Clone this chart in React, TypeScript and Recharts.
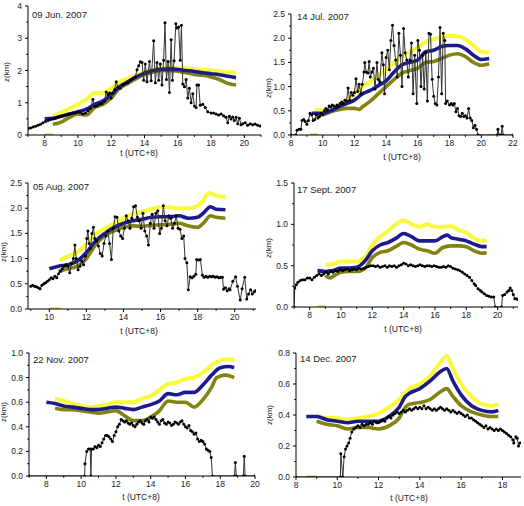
import React from 'react';
import { LineChart, Line, XAxis, YAxis } from 'recharts';

type Pt = [number, number];

// ---- 09 Jun. 2007 ----
const junLidar: Pt[] = [
  [7.0, 0.2], [7.15, 0.22], [7.3, 0.25], [7.45, 0.27], [7.6, 0.3], [7.75, 0.33], [7.9, 0.38], [8.05, 0.42],
  [8.2, 0.45], [8.35, 0.48], [8.5, 0.5], [8.65, 0.52], [8.8, 0.55], [8.95, 0.58], [9.1, 0.6], [9.25, 0.62],
  [9.4, 0.64], [9.55, 0.66], [9.7, 0.68], [9.85, 0.7], [10.0, 0.72], [10.15, 0.7], [10.3, 0.65], [10.45, 0.68],
  [10.6, 0.75], [10.75, 0.82], [10.9, 1.1], [11.0, 0.88], [11.15, 0.9], [11.3, 0.95], [11.45, 0.98], [11.6, 1.05],
  [11.7, 1.33], [11.8, 1.25], [11.9, 1.3], [12.0, 1.15], [12.1, 1.3], [12.2, 1.4], [12.3, 1.65], [12.4, 1.48],
  [12.55, 1.45], [12.7, 1.55], [12.85, 1.6], [13.0, 1.62], [13.15, 1.7], [13.3, 1.75], [13.45, 1.8], [13.55, 2.02],
  [13.65, 2.15], [13.75, 2.27], [13.85, 2.25], [13.95, 1.7], [14.05, 2.2], [14.15, 1.65], [14.3, 2.28], [14.4, 1.68],
  [14.55, 2.92], [14.65, 1.62], [14.75, 2.25], [14.85, 1.7], [14.95, 2.2], [15.05, 1.55], [15.15, 2.32], [15.23, 3.48],
  [15.32, 1.72], [15.42, 2.28], [15.5, 1.32], [15.6, 2.95], [15.68, 1.7], [15.78, 2.3], [15.88, 3.45], [15.95, 3.32],
  [16.05, 3.35], [16.15, 2.32], [16.22, 3.4], [16.3, 1.58], [16.4, 1.5], [16.5, 1.72], [16.6, 1.15], [16.7, 1.45],
  [16.8, 1.0], [16.9, 1.28], [17.0, 0.9], [17.1, 0.85], [17.15, 1.55], [17.25, 1.55], [17.35, 0.92], [17.5, 0.95],
  [17.65, 0.85], [17.8, 0.72], [18.0, 0.68], [18.15, 0.68], [18.3, 0.65], [18.45, 0.62], [18.6, 0.65], [18.75, 0.6],
  [18.9, 0.55], [19.0, 0.38], [19.1, 0.58], [19.2, 0.5], [19.3, 0.56], [19.4, 0.45], [19.5, 0.55], [19.6, 0.35],
  [19.7, 0.52], [19.8, 0.32], [19.9, 0.35], [20.05, 0.38], [20.2, 0.3], [20.35, 0.35], [20.5, 0.32], [20.65, 0.34],
  [20.8, 0.3], [20.95, 0.28],
];
const junYellow: Pt[] = [
  [8.5, 0.58], [9, 0.7], [9.5, 0.82], [10, 0.95], [10.5, 1.1], [11, 1.3], [11.5, 1.3], [12, 1.45], [12.5, 1.65],
  [13, 1.75], [13.5, 1.85], [14, 1.95], [14.5, 2.02], [15, 2.07], [15.5, 2.08], [16, 2.07], [16.5, 2.07],
  [17, 2.05], [17.5, 2.02], [18, 2.0], [18.5, 1.98], [19, 1.95], [19.5, 1.93],
];
const junBlue: Pt[] = [
  [8, 0.5], [8.5, 0.52], [9, 0.58], [9.5, 0.65], [10, 0.72], [10.5, 0.8], [11, 0.95], [11.5, 1.05], [12, 1.25],
  [12.5, 1.5], [13, 1.65], [13.5, 1.8], [14, 1.92], [14.5, 2.0], [15, 2.04], [15.5, 2.05], [16, 2.03], [16.5, 2.0],
  [17, 1.97], [17.5, 1.93], [18, 1.9], [18.5, 1.87], [19, 1.82], [19.5, 1.78],
];
const junOlive: Pt[] = [
  [8.5, 0.33], [9, 0.4], [9.5, 0.55], [10, 0.65], [10.5, 0.62], [11, 0.85], [11.5, 0.95], [12, 1.15], [12.5, 1.45],
  [13, 1.6], [13.5, 1.75], [14, 1.88], [14.5, 1.95], [15, 2.0], [15.5, 2.0], [16, 1.98], [16.5, 1.93], [17, 1.88],
  [17.5, 1.85], [18, 1.8], [18.5, 1.72], [19, 1.6], [19.5, 1.55],
];
const junGround: Pt[] = [[8.0, 0], [8.5, 0]];

// ---- 14 Jul. 2007 ----
const julLidar: Pt[] = [
  [8.0, 0], [8.3, 0], [8.38, 0.1], [8.5, 0.12], [8.62, 0.12], [8.7, 0.3], [8.8, 0.32], [8.9, 0.28], [9.0, 0.22],
  [9.1, 0.3], [9.2, 0.45], [9.3, 0.42], [9.4, 0.3], [9.5, 0.32], [9.6, 0.42], [9.7, 0.35], [9.8, 0.38], [9.9, 0.45],
  [10.0, 0.42], [10.1, 0.5], [10.2, 0.55], [10.3, 0.52], [10.4, 0.6], [10.5, 0.58], [10.6, 0.62], [10.7, 0.6],
  [10.8, 0.58], [10.9, 0.62], [11.0, 0.6], [11.1, 0.65], [11.2, 0.68], [11.3, 0.65], [11.4, 0.72], [11.5, 0.7],
  [11.6, 0.97], [11.7, 0.72], [11.8, 0.88], [11.9, 0.82], [12.0, 0.88], [12.1, 1.16], [12.2, 0.9], [12.3, 1.05],
  [12.4, 0.85], [12.5, 1.05], [12.6, 1.3], [12.65, 1.5], [12.75, 1.3], [12.85, 1.28], [12.93, 1.52], [13.0, 1.2],
  [13.1, 1.3], [13.2, 1.38], [13.3, 0.95], [13.42, 1.5], [13.5, 1.15], [13.6, 1.1], [13.73, 1.7], [13.82, 1.45],
  [13.9, 0.85], [14.0, 1.6], [14.1, 1.75], [14.2, 1.35], [14.3, 1.95], [14.4, 2.27], [14.5, 1.85], [14.6, 1.55],
  [14.7, 1.2], [14.8, 2.1], [14.9, 1.65], [15.0, 1.0], [15.1, 2.2], [15.2, 1.7], [15.3, 1.55], [15.4, 1.2],
  [15.5, 1.55], [15.6, 1.9], [15.7, 0.85], [15.8, 1.65], [15.93, 0.65], [16.0, 1.95], [16.1, 1.75], [16.2, 1.0],
  [16.3, 1.65], [16.4, 0.95], [16.5, 1.7], [16.6, 0.7], [16.7, 2.1], [16.8, 2.08], [16.9, 1.15], [17.0, 0.8],
  [17.1, 0.65], [17.2, 0.62], [17.3, 1.2], [17.4, 2.22], [17.5, 0.85], [17.6, 2.1], [17.7, 1.95], [17.75, 0.65],
  [17.85, 0.7], [18.0, 0.62], [18.1, 0.65], [18.2, 0.62], [18.3, 0.65], [18.4, 0.48], [18.5, 0.55], [18.6, 0.4],
  [18.7, 0.38], [18.8, 0.45], [18.9, 0.38], [19.0, 0.4], [19.1, 0.35], [19.2, 0.55], [19.3, 0.35], [19.4, 0.3],
  [19.5, 0.15], [19.6, 0.2], [19.7, 0.12], [19.8, 0], [21.0, 0], [21.05, 0.12], [21.12, 0], [21.25, 0],
  [21.32, 0.18], [21.38, 0], [22, 0],
];
const julYellow: Pt[] = [
  [9.5, 0.52], [10, 0.52], [10.5, 0.55], [11, 0.62], [11.5, 0.72], [12, 0.85], [12.5, 1.0], [13, 1.1],
  [13.5, 1.22], [14, 1.35], [14.5, 1.5], [15, 1.62], [15.5, 1.72], [16, 1.82], [16.5, 1.92], [17, 1.98],
  [17.5, 2.02], [18, 2.05], [18.5, 2.04], [19, 1.98], [19.5, 1.85], [20, 1.72], [20.5, 1.7],
];
const julBlue: Pt[] = [
  [9.3, 0.45], [10, 0.45], [10.5, 0.5], [11, 0.58], [11.5, 0.65], [12, 0.72], [12.5, 0.85], [13, 0.92],
  [13.5, 1.02], [14, 1.12], [14.5, 1.3], [15, 1.45], [15.5, 1.5], [16, 1.55], [16.5, 1.72], [17, 1.75],
  [17.5, 1.83], [18, 1.85], [18.5, 1.85], [19, 1.78], [19.5, 1.65], [20, 1.56], [20.5, 1.58],
];
const julOlive: Pt[] = [
  [9.5, 0.42], [10, 0.42], [10.5, 0.48], [11, 0.52], [11.5, 0.55], [12, 0.55], [12.3, 0.53], [12.5, 0.58],
  [13, 0.7], [13.5, 0.85], [14, 1.0], [14.5, 1.15], [15, 1.28], [15.5, 1.33], [16, 1.38], [16.5, 1.5],
  [17, 1.52], [17.5, 1.58], [18, 1.65], [18.5, 1.68], [19, 1.62], [19.5, 1.5], [20, 1.44], [20.5, 1.47],
];
const julGround: Pt[] = [[9.2, 0], [9.7, 0]];

// ---- 05 Aug. 2007 ----
const augLidar: Pt[] = [
  [9.0, 0.45], [9.1, 0.47], [9.2, 0.45], [9.3, 0.44], [9.4, 0.42], [9.5, 0.4], [9.6, 0.47], [9.7, 0.5],
  [9.8, 0.52], [9.9, 0.55], [10.0, 0.58], [10.1, 0.62], [10.2, 0.6], [10.3, 0.65], [10.4, 0.62], [10.5, 0.7],
  [10.6, 0.75], [10.7, 0.8], [10.8, 0.85], [10.9, 0.88], [11.0, 0.85], [11.1, 0.72], [11.2, 0.9], [11.3, 1.0],
  [11.38, 1.27], [11.45, 1.0], [11.55, 0.78], [11.65, 0.85], [11.75, 0.95], [11.85, 0.88], [11.95, 1.05],
  [12.02, 1.4], [12.08, 1.55], [12.15, 1.3], [12.22, 1.2], [12.3, 1.5], [12.38, 1.62], [12.45, 1.4], [12.55, 1.35],
  [12.65, 1.25], [12.75, 1.1], [12.85, 1.05], [12.95, 1.3], [13.05, 1.45], [13.15, 1.55], [13.25, 1.3],
  [13.35, 0.98], [13.45, 1.6], [13.55, 1.83], [13.65, 1.82], [13.75, 1.55], [13.85, 1.45], [13.95, 1.4],
  [14.05, 1.6], [14.15, 1.85], [14.25, 1.75], [14.35, 1.6], [14.45, 1.8], [14.55, 2.03], [14.65, 2.05],
  [14.75, 1.82], [14.85, 1.75], [14.95, 1.6], [15.05, 1.9], [15.15, 1.55], [15.25, 1.45], [15.35, 1.27],
  [15.45, 1.7], [15.55, 1.88], [15.65, 1.6], [15.75, 1.9], [15.85, 1.95], [15.95, 1.5], [16.05, 1.6],
  [16.15, 2.05], [16.25, 1.75], [16.35, 1.65], [16.45, 1.85], [16.55, 1.8], [16.65, 1.6], [16.75, 1.7],
  [16.85, 1.85], [16.95, 1.6], [17.05, 1.58], [17.15, 1.4], [17.25, 1.45], [17.32, 1.0], [17.42, 0.92],
  [17.5, 0.38], [17.6, 0.64], [17.7, 0.62], [17.8, 0.65], [17.9, 0.69], [17.95, 0.98], [18.05, 0.97],
  [18.15, 0.98], [18.26, 0.67], [18.35, 0.63], [18.45, 0.65], [18.55, 0.63], [18.65, 0.65], [18.75, 0.64],
  [18.85, 0.65], [18.95, 0.63], [19.05, 0.64], [19.15, 0.62], [19.25, 0.63], [19.34, 0.63], [19.4, 0.39],
  [19.5, 0.42], [19.6, 0.36], [19.7, 0.4], [19.75, 0.38], [19.9, 0.55], [20.05, 0.64], [20.15, 0.45],
  [20.3, 0.18], [20.4, 0.4], [20.54, 0.63], [20.65, 0.2], [20.75, 0.3], [20.86, 0.38], [20.95, 0.3],
  [21.05, 0.34], [21.12, 0.36],
];
const augYellow: Pt[] = [
  [10.55, 0.96], [11, 1.05], [11.5, 1.12], [12, 1.3], [12.5, 1.48], [13, 1.6], [13.5, 1.7], [14, 1.8],
  [14.5, 1.88], [15, 1.93], [15.5, 1.98], [16, 2.03], [16.5, 2.02], [17, 2.0], [17.5, 2.0], [18, 2.05],
  [18.3, 2.15], [18.6, 2.3], [18.8, 2.28], [19, 2.25], [19.5, 2.22],
];
const augBlue: Pt[] = [
  [10.0, 0.8], [10.5, 0.85], [11, 0.88], [11.5, 0.95], [12, 1.12], [12.5, 1.35], [13, 1.5], [13.5, 1.62],
  [14, 1.7], [14.5, 1.75], [15, 1.78], [15.5, 1.82], [16, 1.83], [16.5, 1.83], [17, 1.85], [17.5, 1.8],
  [18, 1.82], [18.3, 1.9], [18.7, 2.03], [19, 1.98], [19.5, 1.97],
];
const augOlive: Pt[] = [
  [10.5, 0.75], [11, 0.8], [11.5, 0.85], [12, 1.0], [12.5, 1.28], [13, 1.45], [13.5, 1.55], [14, 1.62],
  [14.5, 1.65], [15, 1.64], [15.5, 1.66], [16, 1.67], [16.5, 1.68], [17, 1.7], [17.5, 1.65], [18, 1.62],
  [18.3, 1.7], [18.7, 1.85], [19, 1.82], [19.5, 1.8],
];
const augGround: Pt[] = [[10.0, 0], [10.6, 0]];

// ---- 17 Sept. 2007 ----
const sepLidar: Pt[] = [
  [7.0, 0], [7.05, 0.23], [7.15, 0.27], [7.25, 0.3], [7.4, 0.32], [7.55, 0.33], [7.7, 0.33], [7.85, 0.35],
  [8.0, 0.35], [8.15, 0.33], [8.3, 0.36], [8.45, 0.38], [8.6, 0.4], [8.75, 0.38], [8.9, 0.4], [9.05, 0.42],
  [9.2, 0.4], [9.35, 0.43], [9.5, 0.42], [9.65, 0.44], [9.8, 0.43], [9.95, 0.45], [10.1, 0.44], [10.25, 0.45],
  [10.4, 0.46], [10.55, 0.44], [10.7, 0.45], [10.85, 0.46], [11.0, 0.45], [11.15, 0.47], [11.3, 0.46],
  [11.45, 0.47], [11.6, 0.48], [11.75, 0.49], [11.9, 0.5], [12.05, 0.5], [12.2, 0.49], [12.35, 0.5],
  [12.5, 0.48], [12.65, 0.49], [12.8, 0.5], [12.95, 0.48], [13.1, 0.5], [13.25, 0.49], [13.4, 0.5],
  [13.55, 0.48], [13.7, 0.5], [13.85, 0.51], [14.0, 0.53], [14.15, 0.52], [14.3, 0.5], [14.45, 0.51],
  [14.6, 0.5], [14.75, 0.49], [14.9, 0.5], [15.05, 0.51], [15.2, 0.5], [15.35, 0.49], [15.5, 0.5],
  [15.65, 0.5], [15.8, 0.49], [15.95, 0.5], [16.1, 0.49], [16.25, 0.48], [16.4, 0.48], [16.55, 0.49],
  [16.7, 0.48], [16.85, 0.5], [17.0, 0.49], [17.15, 0.47], [17.3, 0.46], [17.45, 0.45], [17.6, 0.44],
  [17.75, 0.42], [17.9, 0.4], [18.05, 0.38], [18.2, 0.36], [18.35, 0.32], [18.5, 0.28], [18.6, 0.26],
  [18.75, 0.22], [18.9, 0.2], [19.0, 0.18], [19.15, 0.16], [19.3, 0.14], [19.45, 0.13], [19.6, 0.12],
  [19.75, 0.12], [19.85, 0], [20.25, 0], [20.32, 0.14], [20.45, 0.15], [20.6, 0.18], [20.7, 0.2], [20.8, 0.23],
  [20.9, 0.2], [21.0, 0.15], [21.1, 0.1], [21.2, 0.1], [21.3, 0.09],
];
const sepYellow: Pt[] = [
  [9.0, 0.51], [9.5, 0.52], [10, 0.55], [10.5, 0.55], [11, 0.55], [11.5, 0.6], [12, 0.75], [12.5, 0.85],
  [13, 0.92], [13.5, 1.0], [14, 1.05], [14.5, 1.0], [15, 0.97], [15.5, 1.0], [16, 0.97], [16.5, 0.97],
  [17, 0.98], [17.5, 0.93], [18, 0.9], [18.5, 0.83], [19, 0.8], [19.3, 0.81],
];
const sepBlue: Pt[] = [
  [8.5, 0.44], [9, 0.43], [9.5, 0.44], [10, 0.47], [10.5, 0.47], [11, 0.48], [11.5, 0.55], [12, 0.68],
  [12.5, 0.75], [13, 0.78], [13.5, 0.83], [14, 0.89], [14.5, 0.85], [15, 0.8], [15.5, 0.8], [16, 0.8],
  [16.5, 0.85], [16.8, 0.87], [17, 0.84], [17.5, 0.82], [18, 0.8], [18.5, 0.76], [19, 0.73], [19.3, 0.73],
];
const sepOlive: Pt[] = [
  [9.0, 0.38], [9.3, 0.35], [9.5, 0.37], [10, 0.42], [10.5, 0.43], [11, 0.43], [11.5, 0.46], [12, 0.6],
  [12.5, 0.66], [13, 0.68], [13.5, 0.73], [14, 0.78], [14.5, 0.75], [15, 0.7], [15.5, 0.68], [16, 0.65],
  [16.5, 0.72], [17, 0.74], [17.5, 0.74], [18, 0.73], [18.5, 0.68], [19, 0.65], [19.3, 0.66],
];
const sepGround: Pt[] = [[8.5, 0], [9.0, 0]];

// ---- 22 Nov. 2007 ----
const novLidar: Pt[] = [
  [7, 0], [10.2, 0], [10.22, 0.1], [10.32, 0.2], [10.42, 0.22], [10.52, 0.22], [10.56, 0], [10.6, 0.22],
  [10.7, 0.22], [10.8, 0.24], [10.9, 0.23], [11.0, 0.25], [11.1, 0.24], [11.2, 0.27], [11.3, 0.3], [11.4, 0.33],
  [11.5, 0.33], [11.6, 0.32], [11.7, 0.3], [11.8, 0.28], [11.9, 0.33], [12.0, 0.36], [12.1, 0.4], [12.2, 0.42],
  [12.3, 0.46], [12.4, 0.45], [12.5, 0.44], [12.6, 0.45], [12.7, 0.43], [12.8, 0.42], [12.9, 0.43], [13.0, 0.41],
  [13.1, 0.4], [13.2, 0.42], [13.3, 0.44], [13.4, 0.45], [13.5, 0.43], [13.6, 0.42], [13.7, 0.45], [13.8, 0.46],
  [13.9, 0.44], [14.0, 0.48], [14.1, 0.47], [14.2, 0.48], [14.3, 0.46], [14.4, 0.44], [14.5, 0.42], [14.6, 0.45],
  [14.7, 0.46], [14.8, 0.43], [14.9, 0.42], [15.0, 0.44], [15.1, 0.43], [15.2, 0.41], [15.3, 0.42], [15.4, 0.44],
  [15.5, 0.43], [15.6, 0.42], [15.7, 0.44], [15.8, 0.45], [15.9, 0.42], [16.0, 0.4], [16.1, 0.39], [16.2, 0.41],
  [16.3, 0.37], [16.4, 0.36], [16.5, 0.34], [16.6, 0.35], [16.7, 0.3], [16.8, 0.28], [16.9, 0.29], [17.0, 0.28],
  [17.1, 0.26], [17.2, 0.22], [17.3, 0.21], [17.4, 0.2], [17.48, 0.15], [17.55, 0], [18.82, 0], [18.87, 0.11],
  [18.92, 0], [19.33, 0], [19.38, 0.16], [19.43, 0], [20, 0],
];
const novYellow: Pt[] = [
  [8.5, 0.63], [9, 0.61], [9.5, 0.59], [10, 0.57], [10.5, 0.56], [11, 0.57], [11.5, 0.58], [12, 0.6],
  [12.5, 0.6], [13, 0.6], [13.5, 0.63], [14, 0.65], [14.5, 0.7], [15, 0.75], [15.5, 0.76], [16, 0.79],
  [16.5, 0.8], [17, 0.84], [17.5, 0.9], [18, 0.94], [18.5, 0.95], [18.8, 0.94],
];
const novBlue: Pt[] = [
  [8.0, 0.6], [8.5, 0.59], [9, 0.57], [9.5, 0.56], [10, 0.55], [10.5, 0.54], [11, 0.54], [11.5, 0.55],
  [12, 0.56], [12.5, 0.55], [13, 0.54], [13.5, 0.56], [14, 0.58], [14.5, 0.61], [15, 0.67], [15.5, 0.66],
  [16, 0.68], [16.5, 0.68], [17, 0.74], [17.5, 0.82], [18, 0.88], [18.5, 0.89], [18.8, 0.88],
];
const novOlive: Pt[] = [
  [8.5, 0.55], [9, 0.54], [9.5, 0.54], [10, 0.53], [10.5, 0.52], [11, 0.51], [11.5, 0.52], [12, 0.53],
  [12.5, 0.49], [13, 0.45], [13.5, 0.45], [14, 0.48], [14.5, 0.53], [15, 0.61], [15.5, 0.6], [16, 0.6],
  [16.5, 0.56], [17, 0.62], [17.5, 0.72], [17.8, 0.8], [18.3, 0.82], [18.8, 0.8],
];

// ---- 14 Dec. 2007 ----
const decLidar: Pt[] = [
  [8, 0], [10.15, 0], [10.17, 0.15], [10.27, 0], [10.33, 0.13], [10.4, 0.18], [10.47, 0.2], [10.55, 0.22],
  [10.62, 0.25], [10.7, 0.29], [10.8, 0.31], [10.9, 0.32], [11.0, 0.33], [11.1, 0.32], [11.2, 0.34], [11.3, 0.33],
  [11.4, 0.34], [11.5, 0.34], [11.6, 0.35], [11.7, 0.34], [11.8, 0.36], [11.9, 0.35], [12.0, 0.35], [12.1, 0.36],
  [12.2, 0.37], [12.3, 0.36], [12.4, 0.38], [12.5, 0.39], [12.6, 0.38], [12.7, 0.4], [12.8, 0.41], [12.9, 0.42],
  [13.0, 0.41], [13.1, 0.42], [13.2, 0.43], [13.3, 0.42], [13.4, 0.43], [13.5, 0.44], [13.6, 0.43], [13.7, 0.44],
  [13.8, 0.45], [13.9, 0.44], [14.0, 0.45], [14.1, 0.44], [14.2, 0.46], [14.3, 0.44], [14.4, 0.45], [14.5, 0.44],
  [14.6, 0.43], [14.7, 0.44], [14.8, 0.43], [14.9, 0.44], [15.0, 0.45], [15.1, 0.44], [15.2, 0.43], [15.3, 0.44],
  [15.4, 0.43], [15.5, 0.42], [15.6, 0.43], [15.7, 0.42], [15.8, 0.41], [15.9, 0.42], [16.0, 0.41], [16.1, 0.4],
  [16.2, 0.39], [16.3, 0.4], [16.4, 0.38], [16.5, 0.38], [16.6, 0.37], [16.7, 0.36], [16.8, 0.35], [16.9, 0.34],
  [17.0, 0.33], [17.1, 0.32], [17.2, 0.33], [17.3, 0.31], [17.4, 0.32], [17.5, 0.31], [17.6, 0.3], [17.7, 0.31],
  [17.8, 0.3], [17.9, 0.31], [18.0, 0.3], [18.1, 0.29], [18.2, 0.28], [18.3, 0.27], [18.4, 0.26], [18.5, 0.24],
  [18.55, 0.22], [18.65, 0.26], [18.72, 0.25], [18.78, 0.2], [18.85, 0.22],
];
const decYellow: Pt[] = [
  [9.0, 0.4], [9.5, 0.38], [10, 0.38], [10.5, 0.37], [11, 0.38], [11.5, 0.39], [12, 0.41], [12.5, 0.45],
  [13, 0.5], [13.5, 0.57], [14, 0.6], [14.5, 0.65], [15, 0.74], [15.3, 0.78], [15.6, 0.7], [16, 0.6],
  [16.5, 0.52], [17, 0.47], [17.5, 0.46], [17.8, 0.47],
];
const decBlue: Pt[] = [
  [8.5, 0.39], [9, 0.39], [9.5, 0.37], [10, 0.36], [10.5, 0.35], [11, 0.36], [11.5, 0.36], [12, 0.36],
  [12.5, 0.39], [13, 0.45], [13.3, 0.52], [13.5, 0.54], [14, 0.57], [14.5, 0.62], [15, 0.68], [15.3, 0.7],
  [15.6, 0.62], [16, 0.53], [16.5, 0.46], [17, 0.43], [17.5, 0.42], [17.8, 0.43],
];
const decOlive: Pt[] = [
  [9.0, 0.36], [9.5, 0.34], [10, 0.33], [10.5, 0.31], [11, 0.32], [11.5, 0.32], [12, 0.31], [12.5, 0.33],
  [13, 0.38], [13.3, 0.45], [13.5, 0.47], [14, 0.48], [14.5, 0.5], [15, 0.55], [15.3, 0.57], [15.6, 0.52],
  [16, 0.46], [16.5, 0.42], [17, 0.4], [17.5, 0.39], [17.8, 0.39],
];
const decGround: Pt[] = [[8.5, 0], [9.0, 0]];

const YELLOW = '#fafa3c';
const BLUE = '#1b1b8e';
const OLIVE = '#838312';
const FONT = '"Liberation Sans", Arial, sans-serif';
const TICK = 3;
const GAP = 2;

const rows = (pts: Pt[]) => pts.map(([t, z]) => ({ t, z }));

// major ticks get a label, minor ticks only a short mark
const XTick = (props: any) => {
  const { x, y, payload, majors } = props;
  const major = majors.includes(payload.value);
  const y0 = y - TICK - GAP;
  return (
    <g>
      <line x1={x} x2={x} y1={y0} y2={y0 + (major ? TICK : 1.8)} stroke="#000" />
      {major && (
        <text x={x} y={y} dy="0.71em" textAnchor="middle" fontSize={8.5} fill="#222">
          {payload.value}
        </text>
      )}
    </g>
  );
};

const YTick = (props: any) => {
  const { x, y, payload, majors, digits } = props;
  const major = majors.includes(payload.value);
  const x0 = x + TICK + GAP + 1;
  return (
    <g>
      <line x1={x0} x2={x0 - (major ? TICK : 1.8)} y1={y} y2={y} stroke="#000" />
      {major && (
        <text x={x} y={y} dy="0.355em" textAnchor="end" fontSize={8.5} fill="#222">
          {Number(payload.value).toFixed(digits)}
        </text>
      )}
    </g>
  );
};

interface PanelProps {
  title: string;
  left: number;
  top: number;
  width: number;
  height: number;
  margin: { top: number; right: number; left: number; bottom: number };
  yWidth: number;
  xHeight: number;
  xDomain: [number, number];
  xTicks: number[];
  xMinor: number[];
  yDomain: [number, number];
  yTicks: number[];
  yMinor: number[];
  yDigits: number;
  lidar: Pt[];
  yellow: Pt[];
  blue: Pt[];
  olive: Pt[];
  ground?: Pt[];
  titlePos: [number, number];
  xLabelPos: [number, number];
  yLabelPos: [number, number];
}

function Panel(p: PanelProps) {
  const xAll = [...p.xTicks, ...p.xMinor].sort((a, b) => a - b);
  const yAll = [...p.yTicks, ...p.yMinor].sort((a, b) => a - b);
  return (
    <div style={{ position: 'absolute', left: p.left, top: p.top, width: p.width, height: p.height }}>
      <LineChart width={p.width} height={p.height} margin={p.margin}>
        <XAxis
          type="number"
          dataKey="t"
          domain={p.xDomain}
          ticks={xAll}
          interval={0}
          allowDataOverflow
          height={p.xHeight}
          stroke="#000"
          tickLine={false}
          tick={<XTick majors={p.xTicks} />}
          tickSize={TICK}
          tickMargin={GAP}
        />
        <YAxis
          type="number"
          dataKey="z"
          domain={p.yDomain}
          ticks={yAll}
          interval={0}
          allowDataOverflow
          width={p.yWidth}
          stroke="#000"
          tickLine={false}
          tick={<YTick majors={p.yTicks} digits={p.yDigits} />}
          tickSize={TICK}
          tickMargin={GAP + 1}
        />
        {p.ground && (
          <Line data={rows(p.ground)} dataKey="z" stroke="#cfc62a" strokeWidth={3} dot={false} isAnimationActive={false} />
        )}
        <Line data={rows(p.yellow)} dataKey="z" type="monotone" stroke={YELLOW} strokeWidth={4} dot={false} isAnimationActive={false} />
        <Line data={rows(p.olive)} dataKey="z" type="monotone" stroke={OLIVE} strokeWidth={3.6} dot={false} isAnimationActive={false} />
        <Line data={rows(p.blue)} dataKey="z" type="monotone" stroke={BLUE} strokeWidth={3.6} dot={false} isAnimationActive={false} />
        <Line
          data={rows(p.lidar)}
          dataKey="z"
          stroke="#333"
          strokeWidth={1}
          dot={{ r: 1.5, fill: '#000', stroke: 'none' }}
          isAnimationActive={false}
        />
      </LineChart>
      <div style={{ position: 'absolute', left: p.titlePos[0], top: p.titlePos[1] - 5, fontSize: 9.5, lineHeight: '10px', color: '#222', whiteSpace: 'nowrap' }}>
        {p.title}
      </div>
      <div style={{ position: 'absolute', left: p.xLabelPos[0], top: p.xLabelPos[1], transform: 'translate(-50%, -50%)', fontSize: 8.5, lineHeight: '10px', color: '#222', whiteSpace: 'nowrap' }}>
        t (UTC+8)
      </div>
      <div style={{ position: 'absolute', left: p.yLabelPos[0], top: p.yLabelPos[1], transform: 'translate(-50%, -50%) rotate(-90deg)', fontSize: 8, lineHeight: '10px', color: '#222', whiteSpace: 'nowrap' }}>
        z(km)
      </div>
    </div>
  );
}

export default function App() {
  return (
    <div style={{ position: 'absolute', left: 0, top: 0, width: 524, height: 506, background: '#fff', fontFamily: FONT, overflow: 'hidden' }}>
      <Panel
        title="09 Jun. 2007" left={0} top={0} width={262} height={170}
        margin={{ top: 6, right: 1, left: 0, bottom: 0 }} yWidth={28} xHeight={35}
        xDomain={[7, 21]} xTicks={[8, 10, 12, 14, 16, 18, 20]} xMinor={[7, 9, 11, 13, 15, 17, 19, 21]}
        yDomain={[0, 4]} yTicks={[0, 1, 2, 3, 4]} yMinor={[0.5, 1.5, 2.5, 3.5]} yDigits={0}
        lidar={junLidar} yellow={junYellow} blue={junBlue} olive={junOlive} ground={junGround}
        titlePos={[32, 15]} xLabelPos={[139, 153]} yLabelPos={[7, 72]}
      />
      <Panel
        title="14 Jul. 2007" left={262} top={0} width={262} height={170}
        margin={{ top: 14, right: 11, left: 0, bottom: 0 }} yWidth={29} xHeight={35}
        xDomain={[8, 22]} xTicks={[8, 10, 12, 14, 16, 18, 20, 22]} xMinor={[9, 11, 13, 15, 17, 19, 21]}
        yDomain={[0, 2.5]} yTicks={[0, 0.5, 1, 1.5, 2, 2.5]} yMinor={[0.25, 0.75, 1.25, 1.75, 2.25]} yDigits={1}
        lidar={julLidar} yellow={julYellow} blue={julBlue} olive={julOlive} ground={julGround}
        titlePos={[35, 17]} xLabelPos={[140, 157]} yLabelPos={[7, 88]}
      />
      <Panel
        title="05 Aug. 2007" left={0} top={170} width={262} height={170}
        margin={{ top: 13, right: 6, left: 0, bottom: 0 }} yWidth={28} xHeight={31}
        xDomain={[8.85, 21.15]} xTicks={[10, 12, 14, 16, 18, 20]} xMinor={[9, 11, 13, 15, 17, 19, 21]}
        yDomain={[0, 2.5]} yTicks={[0, 0.5, 1, 1.5, 2, 2.5]} yMinor={[0.25, 0.75, 1.25, 1.75, 2.25]} yDigits={1}
        lidar={augLidar} yellow={augYellow} blue={augBlue} olive={augOlive} ground={augGround}
        titlePos={[33, 17]} xLabelPos={[139, 161]} yLabelPos={[4, 82]}
      />
      <Panel
        title="17 Sept. 2007" left={262} top={170} width={262} height={170}
        margin={{ top: 13, right: 6, left: 0, bottom: 0 }} yWidth={32} xHeight={33}
        xDomain={[7, 21.3]} xTicks={[8, 10, 12, 14, 16, 18, 20]} xMinor={[7, 9, 11, 13, 15, 17, 19, 21]}
        yDomain={[0, 1.5]} yTicks={[0, 0.5, 1, 1.5]} yMinor={[0.25, 0.75, 1.25]} yDigits={1}
        lidar={sepLidar} yellow={sepYellow} blue={sepBlue} olive={sepOlive} ground={sepGround}
        titlePos={[35, 20]} xLabelPos={[141, 159]} yLabelPos={[7, 78]}
      />
      <Panel
        title="22 Nov. 2007" left={0} top={340} width={262} height={166}
        margin={{ top: 13, right: 7, left: 0, bottom: 0 }} yWidth={29} xHeight={30}
        xDomain={[7, 20]} xTicks={[8, 10, 12, 14, 16, 18, 20]} xMinor={[7, 9, 11, 13, 15, 17, 19]}
        yDomain={[0, 1]} yTicks={[0, 0.2, 0.4, 0.6, 0.8, 1]} yMinor={[0.1, 0.3, 0.5, 0.7, 0.9]} yDigits={1}
        lidar={novLidar} yellow={novYellow} blue={novBlue} olive={novOlive}
        titlePos={[33, 20]} xLabelPos={[141, 157]} yLabelPos={[4, 72]}
      />
      <Panel
        title="14 Dec. 2007" left={262} top={340} width={262} height={166}
        margin={{ top: 13, right: 3, left: 0, bottom: 0 }} yWidth={34} xHeight={29}
        xDomain={[8, 18.9]} xTicks={[8, 10, 12, 14, 16, 18]} xMinor={[9, 11, 13, 15, 17]}
        yDomain={[0, 0.8]} yTicks={[0, 0.2, 0.4, 0.6, 0.8]} yMinor={[0.1, 0.3, 0.5, 0.7]} yDigits={1}
        lidar={decLidar} yellow={decYellow} blue={decBlue} olive={decOlive} ground={decGround}
        titlePos={[38, 19]} xLabelPos={[147, 158]} yLabelPos={[8, 75]}
      />
    </div>
  );
}
